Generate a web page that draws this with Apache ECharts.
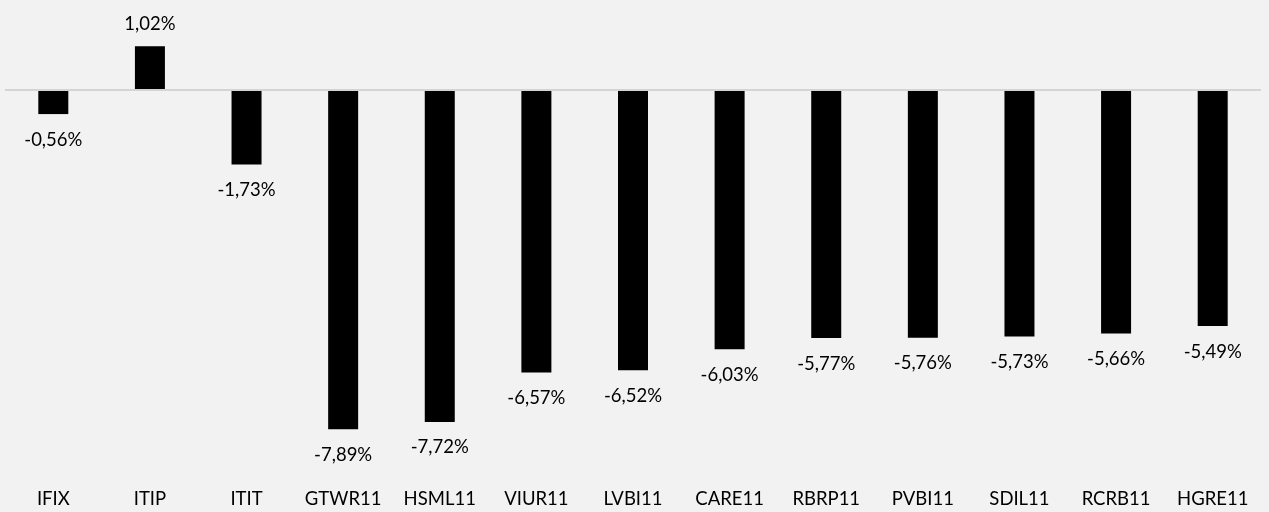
<!DOCTYPE html>
<html>
<head>
<meta charset="utf-8">
<script src="https://cdn.jsdelivr.net/npm/echarts@6/dist/echarts.min.js"></script>
<style>
html,body{margin:0;padding:0;background:#f2f2f2;}
#c{width:1269px;height:512px;}
</style>
</head>
<body>
<div id="c"></div>
<script>
var categories = ['IFIX','ITIP','ITIT','GTWR11','HSML11','VIUR11','LVBI11','CARE11','RBRP11','PVBI11','SDIL11','RCRB11','HGRE11'];
var values = [-0.56, 1.02, -1.73, -7.89, -7.72, -6.57, -6.52, -6.03, -5.77, -5.76, -5.73, -5.66, -5.49];

var FONT = 'Lato';
var chart = echarts.init(document.getElementById('c'));
function fmt(v){ return v.toFixed(2).replace('.', ',') + '%'; }
var data = values.map(function(v){
  return {
    value: v,
    label: { position: v >= 0 ? 'top' : 'bottom', distance: v >= 0 ? 13 : 16 }
  };
});
chart.setOption({
  backgroundColor: '#f2f2f2',
  animation: false,
  grid: { left: 5, right: 8, top: 4, bottom: 35, containLabel: false },
  xAxis: {
    type: 'category',
    data: categories,
    axisLine: { show: false },
    axisTick: { show: false },
    axisLabel: { color: '#000', fontFamily: FONT, fontSize: 18.5, margin: 13, interval: 0, hideOverlap: false },
    splitLine: { show: false }
  },
  yAxis: {
    type: 'value',
    min: -9, max: 2,
    show: false,
    splitLine: { show: false }
  },
  series: [{
    type: 'bar',
    data: data,
    barWidth: 30,
    itemStyle: { color: '#000' },
    label: {
      show: true,
      color: '#000',
      fontFamily: FONT,
      fontSize: 18.5,
      formatter: function(p){ return fmt(p.value); }
    },
    markLine: {
      silent: true,
      symbol: ['none','none'],
      label: { show: false },
      lineStyle: { color: '#d4d4d4', width: 2, type: 'solid' },
      data: [{ yAxis: 0 }]
    }
  }]
});
</script>
</body>
</html>
